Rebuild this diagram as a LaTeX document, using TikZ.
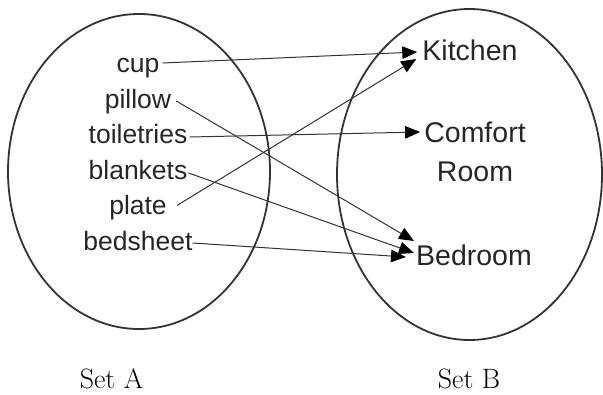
\documentclass[tikz,border=0pt]{standalone}
\usepackage{fontspec}
\newfontfamily\labfont{Liberation Sans}
\usetikzlibrary{arrows.meta,calc}
\begin{document}
\begin{tikzpicture}[x=1pt,y=-1pt,
  setline/.style={draw=black!80,line width=1.8pt},
  itemA/.style={inner sep=0pt,anchor=base,text=black!85,font=\labfont\fontsize{26.5}{30}\selectfont},
  itemB/.style={inner sep=0pt,text=black!85,font=\labfont\fontsize{28.5}{39}\selectfont},
  setlabel/.style={inner sep=0pt,anchor=base,font=\fontsize{28}{30}\selectfont},
  maparrow/.style={draw=black!80,line width=1pt,-{Triangle[length=15pt,width=12.5pt,color=black,fill=black]}}]
\useasboundingbox (0,0) rectangle (603,394);
\draw[setline] (139,171.5) ellipse [x radius=131pt, y radius=157.5pt];
\draw[setline] (469.5,174.5) ellipse [x radius=132.5pt, y radius=165.5pt];
\node[itemA] (cup) at (138,72) {cup};
\node[itemA] (pillow) at (138,108) {pillow};
\node[itemA] (toil) at (138,143.5) {toiletries};
\node[itemA] (blank) at (138,179) {blankets};
\node[itemA] (plate) at (138,214.5) {plate};
\node[itemA] (bed) at (138,250) {bedsheet};
\node[itemB,anchor=base] (kit) at (470,60) {Kitchen};
\node[itemB,anchor=north,align=center] (cr) at (475,122) {Comfort\\Room};
\node[itemB,anchor=base] (bedr) at (474,265) {Bedroom};
\node[setlabel] (sa) at (111.5,388) {Set A};
\node[setlabel] (sb) at (469,388) {Set B};
\draw[maparrow] ($(cup.base east)+(3,-9)$) -- ($(kit.base west)+(-5,-8)$);
\draw[maparrow] ($(plate.base east)+(10,-9)$) -- ($(kit.base west)+(-6,-1)$);
\draw[maparrow] ($(toil.base east)+(2,-6.5)$) -- ($(cr.north west)+(-4,10)$);
\draw[maparrow] ($(pillow.base east)+(5,-7)$) -- ($(bedr.base west)+(-2,-24)$);
\draw[maparrow] ($(blank.base east)+(1,-6)$) -- ($(bedr.base west)+(-2,-12)$);
\draw[maparrow] ($(bed.base east)+(0,-7)$) -- ($(bedr.base west)+(-10,-8)$);
\end{tikzpicture}
\end{document}
